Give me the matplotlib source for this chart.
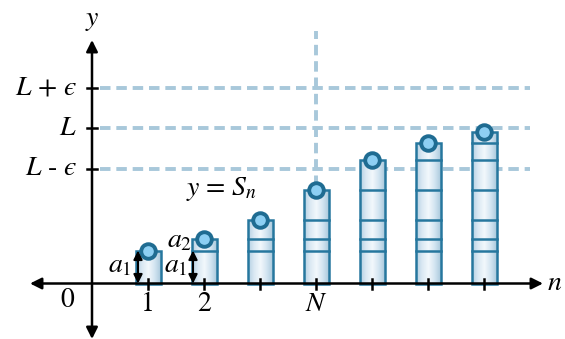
import numpy as np
import matplotlib
matplotlib.use("Agg")
import matplotlib.pyplot as plt
from matplotlib.patches import Rectangle

plt.rcParams['mathtext.fontset'] = 'stix'
plt.rcParams['font.family'] = ['STIXGeneral', 'DejaVu Serif']

# ---- data ----
n_values = [1, 2, 3, 4, 5, 6, 7]
partial_sums = [33, 45, 64, 94, 124, 141, 152]
L_value = 155.5
epsilon = 40.5
N_index = 4
x_tick_labels = {1: "1", 2: "2", 4: "$N$"}
y_tick_labels = ["$L$ - $\u03f5$", "$L$", "$L$ + $\u03f5$"]

# ---- figure ----
W, H = 565, 339
PX = 56.0  # pixels per n unit
fig = plt.figure(figsize=(W / 100, H / 100), dpi=100)
ax = fig.add_axes([0, 0, 1, 1])
ax.axis('off')

def px(d):  # horizontal pixel distance -> data
    return d / PX

dash_col = '#a8c8da'
edge_col = '#26779e'

# dashed reference lines
y_levels = [L_value - epsilon, L_value, L_value + epsilon]
for yl in y_levels:
    ax.plot([px(8), px(438)], [yl, yl], color=dash_col, lw=2.8,
            dashes=(2.7, 1.5), zorder=1, solid_capstyle='butt')
ax.plot([N_index, N_index], [0, 253], color=dash_col, lw=2.8,
        dashes=(2.7, 1.5), zorder=1)

# bars with gradient
bar_w = px(25)
grad = np.linspace(0, 1, 256)
cmap = matplotlib.colors.LinearSegmentedColormap.from_list(
    'g', ['#b3cfe3', '#dbe9f3', '#f2f8fc', '#d3e5f1', '#a9c8dc'])
for i, (n, s) in enumerate(zip(n_values, partial_sums)):
    x0 = n - bar_w / 2
    im = ax.imshow(grad[None, :], cmap=cmap, aspect='auto',
                   extent=[x0, x0 + bar_w, 0, s], zorder=2, interpolation='bilinear')
    rect = Rectangle((x0, 0), bar_w, s, facecolor='none', edgecolor=edge_col,
                     lw=1.8, zorder=3)
    ax.add_patch(rect)
    im.set_clip_path(rect)
    for s_prev in partial_sums[:i]:
        ax.plot([x0, x0 + bar_w], [s_prev, s_prev], color=edge_col, lw=1.8, zorder=3)
    ax.plot(n, s, 'o', ms=10.5, mfc='#8dcff3', mec='#1f6c92', mew=2.8, zorder=5)

ax.set_xlim(-92 / PX, (W - 92) / PX)
ax.set_ylim(283.5 - H, 283.5)

# axes with arrows
ax.annotate('', xy=(px(543 - 92), 0), xytext=(px(30 - 92), 0),
            arrowprops=dict(arrowstyle='<|-|>', color='k', lw=1.8,
                            mutation_scale=17, shrinkA=0, shrinkB=0), zorder=6)
ax.annotate('', xy=(0, 283.5 - 40), xytext=(0, 283.5 - 339),
            arrowprops=dict(arrowstyle='<|-|>', color='k', lw=1.8,
                            mutation_scale=17, shrinkA=0, shrinkB=0), zorder=6)

# ticks
for n in n_values:
    ax.plot([n, n], [-5, 5], color='k', lw=1.8, zorder=6)
for yl in y_levels:
    ax.plot([px(-5), px(5)], [yl, yl], color='k', lw=1.8, zorder=6)

fs = 20
for n, lab in x_tick_labels.items():
    ax.text(n, -21, lab, ha='center', va='center', fontsize=fs)
ax.text(px(-25), -17, "0", ha='center', va='center', fontsize=fs)
for yl, lab in zip(y_levels, y_tick_labels):
    ax.text(px(-15), yl, lab, ha='right', va='center', fontsize=fs)
ax.text(0, 283.5 - 20, "$y$", ha='center', va='center', fontsize=fs)
ax.text(px(555 - 92), 0, "$n$", ha='center', va='center', fontsize=fs)
ax.text(px(222 - 92), 283.5 - 189, "$y$ = $S_n$", ha='center', va='center', fontsize=fs)

# a1, a2 annotations
for xa in [px(138 - 92), px(193 - 92)]:
    ax.annotate('', xy=(xa, partial_sums[0]), xytext=(xa, 0),
                arrowprops=dict(arrowstyle='<|-|>', color='k', lw=1.5,
                                mutation_scale=13, shrinkA=0, shrinkB=0), zorder=6)
ax.text(px(120 - 92), 283.5 - 266, "$a_1$", ha='center', va='center', fontsize=fs)
ax.text(px(176 - 92), 283.5 - 266, "$a_1$", ha='center', va='center', fontsize=fs)
ax.text(px(180 - 92), 283.5 - 241, "$a_2$", ha='center', va='center', fontsize=fs)

fig.savefig('out.png', dpi=100)
